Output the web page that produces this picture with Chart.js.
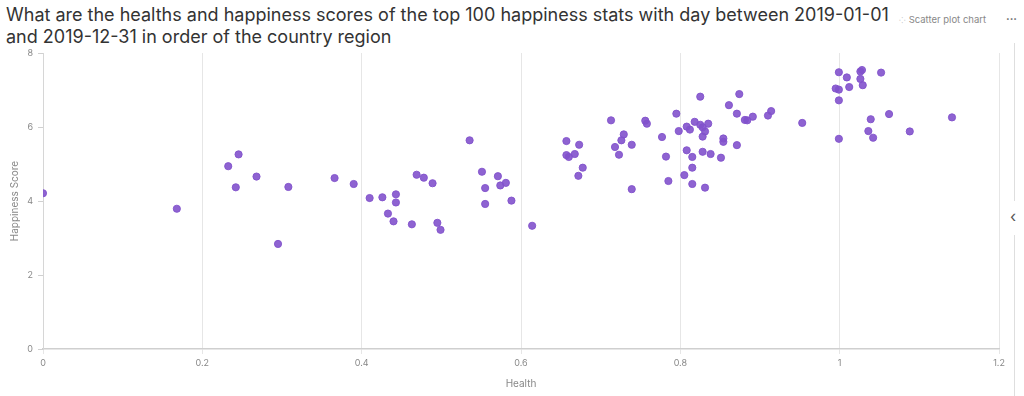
<!DOCTYPE html>
<html><head><meta charset="utf-8">
<script src="https://cdn.jsdelivr.net/npm/chart.js@4"></script>
<style>
html,body{margin:0;padding:0;background:#fff;width:1024px;height:396px;overflow:hidden;font-family:Inter,sans-serif}
#title{position:absolute;left:6px;top:4px;font-size:18px;line-height:22px;color:#333;font-weight:400}
#badge{position:absolute;left:899px;top:14px;font-size:9.5px;color:#888}
#dots{position:absolute;left:1006px;top:12px;font-size:11px;color:#666;font-weight:700}
#vline1{position:absolute;left:1014px;top:43px;width:1px;height:158px;background:#dedede}
#vline2{position:absolute;left:1014px;top:235px;width:1px;height:161px;background:#dedede}
#arrow{position:absolute;left:1010px;top:206px;font-size:16px;color:#555}
#wrap{position:absolute;left:0;top:40px;width:1010px;height:356px}
</style></head>
<body>
<div id="title">What are the healths and happiness scores of the top 100 happiness stats with day between 2019-01-01<br>and 2019-12-31 in order of the country region</div>
<div id="badge"><span style="color:#bbb;font-size:8px">⁘</span> Scatter plot chart</div>
<div id="dots">···</div>
<div id="vline1"></div><div id="vline2"></div>
<div id="arrow">‹</div>
<div id="wrap"><canvas id="c" width="1010" height="356"></canvas></div>
<script>
const healthValues = [0,0.168,0.2325,0.2455,0.242,0.268,0.295,0.308,0.366,
0.390,0.410,0.426,0.443,0.443,0.433,0.440,0.463,0.469,0.478,0.489,0.495,0.499,
0.5355,0.551,0.555,0.555,0.571,0.574,0.581,0.588,0.614,
0.657,0.657,0.660,0.6675,0.673,0.6775,0.672,
0.713,0.718,0.723,0.726,0.729,0.739,0.739,
0.756,0.758,0.777,0.782,0.785,0.795,0.798,
0.805,0.808,0.812,0.808,0.815,0.815,0.815,
0.818,0.825,0.825,0.828,0.831,0.835,0.828,0.828,0.838,0.831,
0.851,0.854,0.854,0.871,0.861,0.874,0.871,0.881,0.884,0.891,
0.910,0.914,0.953,
0.999,1.009,0.995,0.999,0.999,1.012,0.999,
1.026,1.028,1.026,1.029,1.052,1.039,1.062,1.036,1.042,
1.088,1.141];
const happinessValues = [4.21,3.79,4.94,5.26,4.37,4.66,2.84,4.38,4.62,
4.46,4.08,4.10,4.18,3.96,3.66,3.45,3.37,4.71,4.63,4.48,3.41,3.22,
5.64,4.79,4.35,3.92,4.67,4.42,4.49,4.01,3.33,
5.62,5.24,5.19,5.27,5.52,4.90,4.68,
6.18,5.46,5.25,5.64,5.80,5.52,4.32,
6.17,6.09,5.73,5.20,4.54,6.36,5.89,
4.70,6.01,5.93,5.37,5.19,4.90,4.46,
6.14,6.82,6.06,5.99,5.88,6.09,5.74,5.33,5.27,4.36,
5.17,5.69,5.60,5.51,6.59,6.89,6.36,6.19,6.18,6.28,
6.31,6.43,6.11,
7.48,7.34,7.04,7.01,6.72,7.08,5.68,
7.50,7.54,7.30,7.13,7.47,6.21,6.35,5.89,5.71,
5.88,6.26];
const xTicks = [0,0.2,0.4,0.6,0.8,1,1.2];
const yTicks = [0,2,4,6,8];

const points = healthValues.map((h,i)=>({x:h,y:happinessValues[i]}));
const tickFont = {family:'Inter', size:9};
new Chart(document.getElementById('c'),{
  type:'scatter',
  data:{datasets:[{data:points,backgroundColor:'rgba(130,82,204,0.9)',borderColor:'rgba(130,82,204,0.9)',borderWidth:1,pointRadius:3.6,pointHoverRadius:4}]},
  options:{
    responsive:false,animation:false,
    layout:{padding:{top:13,right:11,bottom:6,left:0}},
    plugins:{legend:{display:false},tooltip:{enabled:false},title:{display:false}},
    scales:{
      x:{type:'linear',min:0,max:1.2,
        afterBuildTicks:s=>{s.ticks=xTicks.map(v=>({value:v}));},
        ticks:{color:'#888',font:tickFont,padding:4,callback:v=>String(v)},
        grid:{color:'#e6e6e6',drawTicks:true,tickLength:5,tickColor:'#e6e6e6'},
        border:{color:'#cfcfcf',width:1.5},
        title:{display:true,text:'Health',color:'#888',font:{family:'Inter',size:10},padding:{top:6,bottom:0}},
        afterFit:s=>{s.height=41;}
      },
      y:{type:'linear',min:0,max:8,
        afterBuildTicks:s=>{s.ticks=yTicks.map(v=>({value:v}));},
        ticks:{color:'#888',font:tickFont,padding:5},
        grid:{display:true,drawOnChartArea:false,tickLength:5,tickColor:'#d0d0d0'},
        border:{color:'#d6d6d6',width:1},
        title:{display:true,text:'Happiness Score',color:'#888',font:{family:'Inter',size:10},padding:{top:9,bottom:4}},
        afterFit:s=>{s.width=43;}
      }
    }
  }
});
</script>
</body></html>
